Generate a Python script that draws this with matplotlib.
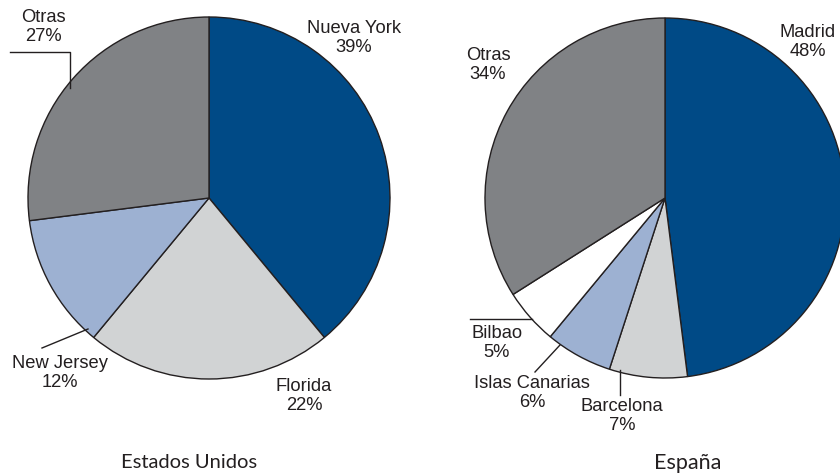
import matplotlib
matplotlib.use("Agg")
import matplotlib.pyplot as plt
from matplotlib.lines import Line2D

# Data
us_labels = ["Nueva York", "Florida", "New Jersey", "Otras"]
us_values = [39, 22, 12, 27]
us_colors = ["#004a86", "#d1d3d4", "#9db1d2", "#808285"]

es_labels = ["Madrid", "Barcelona", "Islas Canarias", "Bilbao", "Otras"]
es_values = [48, 7, 6, 5, 34]
es_colors = ["#004a86", "#d1d3d4", "#9db1d2", "#ffffff", "#808285"]

W, H = 840, 476
fig = plt.figure(figsize=(W / 100, H / 100), dpi=100)
EDGE = "#231f20"
LABEL_FONT = ["Liberation Sans", "DejaVu Sans"]
TITLE_FONT = ["Lato", "DejaVu Sans"]


def pie_axes(cx, cy, r):
    ax = fig.add_axes([(cx - r) / W, (H - cy - r) / H, 2 * r / W, 2 * r / H])
    return ax


def draw_pie(ax, values, colors):
    ax.pie(values, colors=colors, startangle=90, counterclock=False, radius=1,
           wedgeprops=dict(edgecolor=EDGE, linewidth=1.0))
    ax.set_xlim(-1, 1)
    ax.set_ylim(-1, 1)
    ax.set_aspect("auto")
    ax.axis("off")


def label(px, py, txt, size=13.2):
    fig.text(px / W, 1 - py / H, txt, ha="center", va="center", fontsize=size,
             family=LABEL_FONT, color="#231f20", linespacing=1.15)


def leader(xs, ys):
    fig.add_artist(Line2D([x / W for x in xs], [1 - y / H for y in ys],
                          color=EDGE, linewidth=1.0))


ax1 = pie_axes(209, 198, 181)
draw_pie(ax1, us_values, us_colors)
ax2 = pie_axes(665, 198, 180)
draw_pie(ax2, es_values, es_colors)

# Estados Unidos labels
label(354, 38, f"{us_labels[0]}\n{us_values[0]}%")
label(304, 396, f"{us_labels[1]}\n{us_values[1]}%")
label(60, 373, f"{us_labels[2]}\n{us_values[2]}%")
label(43, 27, f"{us_labels[3]}\n{us_values[3]}%")
leader([10, 70, 70], [52, 52, 88])
leader([42, 88], [348, 329])

# España labels
label(808, 42, f"{es_labels[0]}\n{es_values[0]}%")
label(622, 416, f"{es_labels[1]}\n{es_values[1]}%")
label(532, 393, f"{es_labels[2]}\n{es_values[2]}%")
label(497, 343, f"{es_labels[3]}\n{es_values[3]}%")
label(488, 65, f"{es_labels[4]}\n{es_values[4]}%")
leader([470, 532], [319, 319])
leader([535, 560], [372, 345])
leader([620, 620], [370, 395])

fig.text(189 / W, 1 - 463 / H, "Estados Unidos", ha="center", va="center",
         fontsize=14.5, family=TITLE_FONT, color="#231f20")
fig.text(688 / W, 1 - 463 / H, "España", ha="center", va="center",
         fontsize=15.5, family=TITLE_FONT, color="#231f20")

fig.savefig("out.png", dpi=100)
